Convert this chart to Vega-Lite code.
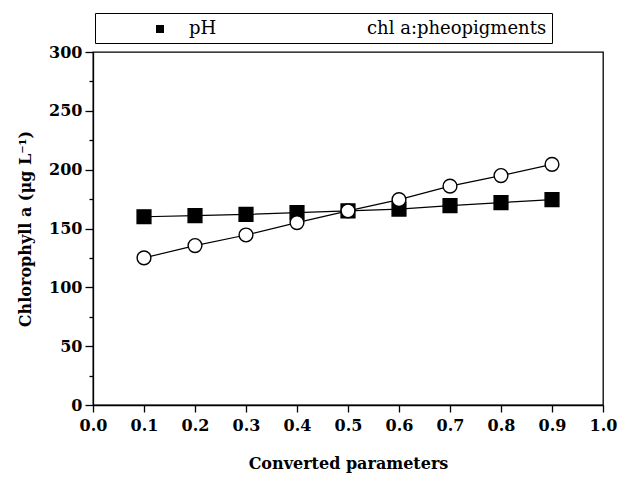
{
  "$schema": "https://vega.github.io/schema/vega-lite/v6.json",
  "width": 510,
  "height": 353,
  "autosize": {"type": "none"},
  "padding": {"left": 93, "top": 52, "right": 15, "bottom": 72},
  "background": "white",
  "config": {
    "view": {"stroke": "black", "strokeWidth": 1.3},
    "font": "DejaVu Serif",
    "axis": {
      "labelFont": "DejaVu Serif", "labelFontSize": 16, "labelFontWeight": "bold", "labelColor": "black",
      "titleFont": "DejaVu Serif", "titleFontSize": 16, "titleFontWeight": "bold", "titleColor": "black",
      "domainColor": "black", "tickColor": "black", "domainWidth": 1.3, "tickWidth": 1.3, "grid": false
    }
  },
  "data": {
    "values": [
      {"param": 0.1, "value": 160, "series": "pH"},
      {"param": 0.2, "value": 161, "series": "pH"},
      {"param": 0.3, "value": 162, "series": "pH"},
      {"param": 0.4, "value": 163.5, "series": "pH"},
      {"param": 0.5, "value": 165, "series": "pH"},
      {"param": 0.6, "value": 166.5, "series": "pH"},
      {"param": 0.7, "value": 169.5, "series": "pH"},
      {"param": 0.8, "value": 172, "series": "pH"},
      {"param": 0.9, "value": 174.5, "series": "pH"},
      {"param": 0.1, "value": 125, "series": "chl a:pheopigments"},
      {"param": 0.2, "value": 135.5, "series": "chl a:pheopigments"},
      {"param": 0.3, "value": 144.5, "series": "chl a:pheopigments"},
      {"param": 0.4, "value": 155, "series": "chl a:pheopigments"},
      {"param": 0.5, "value": 165, "series": "chl a:pheopigments"},
      {"param": 0.6, "value": 174.5, "series": "chl a:pheopigments"},
      {"param": 0.7, "value": 186, "series": "chl a:pheopigments"},
      {"param": 0.8, "value": 195, "series": "chl a:pheopigments"},
      {"param": 0.9, "value": 204.5, "series": "chl a:pheopigments"}
    ]
  },
  "encoding": {
    "x": {
      "field": "param", "type": "quantitative",
      "scale": {"domain": [0, 1], "nice": false},
      "axis": {
        "values": [0, 0.1, 0.2, 0.3, 0.4, 0.5, 0.6, 0.7, 0.8, 0.9, 1.0],
        "format": ".1f", "tickSize": 7, "labelPadding": 5, "labelFlush": false, "labelOverlap": false,
        "title": "Converted parameters", "titlePadding": 22
      }
    },
    "y": {
      "field": "value", "type": "quantitative",
      "scale": {"domain": [0, 300], "nice": false},
      "axis": {
        "orient": "left",
        "values": [0, 25, 50, 75, 100, 125, 150, 175, 200, 225, 250, 275, 300],
        "labelExpr": "datum.value % 50 === 0 ? datum.label : ''",
        "tickSize": {"condition": {"test": "datum.value % 50 !== 0", "value": 4}, "value": 8},
        "labelPadding": 3, "labelOverlap": false,
        "title": "Chlorophyll a (μg L⁻¹)", "titlePadding": 15
      }
    }
  },
  "layer": [
    {
      "mark": {"type": "point", "filled": true, "opacity": 0, "size": 10},
      "encoding": {
        "shape": {
          "field": "series", "type": "nominal",
          "scale": {"domain": ["pH", "chl a:pheopigments"], "range": ["M-2,0H-0.4M0.4,0H2M-0.4,-0.4H0.4V0.4H-0.4Z", "M-2,0H-0.4M0.4,0H2M0.4,0L0.346,0.2L0.2,0.346L0,0.4L-0.2,0.346L-0.346,0.2L-0.4,0L-0.346,-0.2L-0.2,-0.346L0,-0.4L0.2,-0.346L0.346,-0.2Z"]},
          "legend": {
            "orient": "none", "legendX": 2, "legendY": -39, "direction": "horizontal",
            "strokeColor": "black", "padding": 5,
            "title": "\u00a0", "titleOrient": "left", "titleFontSize": 16, "titlePadding": 49,
            "labelFont": "DejaVu Serif", "labelFontSize": 18, "labelFontWeight": "normal", "labelColor": "black",
            "labelOffset": 18, "columnPadding": 98, "symbolSize": 400, "labelLimit": 0,
            "symbolOpacity": 1, "symbolStrokeColor": "black", "symbolStrokeWidth": 1.2,
            "encode": {
              "symbols": {
                "stroke": {"value": "black"},
                "strokeWidth": {"value": 1.2}
              }
            }
          }
        },
        "fill": {
          "field": "series", "type": "nominal",
          "scale": {"domain": ["pH", "chl a:pheopigments"], "range": ["black", "white"]}
        }
      }
    },
    {
      "mark": {"type": "line", "color": "black", "strokeWidth": 1.2},
      "encoding": {
        "detail": {"field": "series", "type": "nominal"}
      }
    },
    {
      "mark": {"type": "point", "filled": true, "size": 190, "stroke": "black", "strokeWidth": 1.4, "opacity": 1},
      "encoding": {
        "shape": {
          "field": "series", "type": "nominal",
          "scale": {"domain": ["pH", "chl a:pheopigments"], "range": ["square", "circle"]},
          "legend": null
        },
        "fill": {
          "field": "series", "type": "nominal",
          "scale": {"domain": ["pH", "chl a:pheopigments"], "range": ["black", "white"]},
          "legend": null
        }
      }
    }
  ],
  "resolve": {
    "scale": {"shape": "independent", "fill": "independent"},
    "legend": {"shape": "independent", "fill": "independent"}
  }
}
